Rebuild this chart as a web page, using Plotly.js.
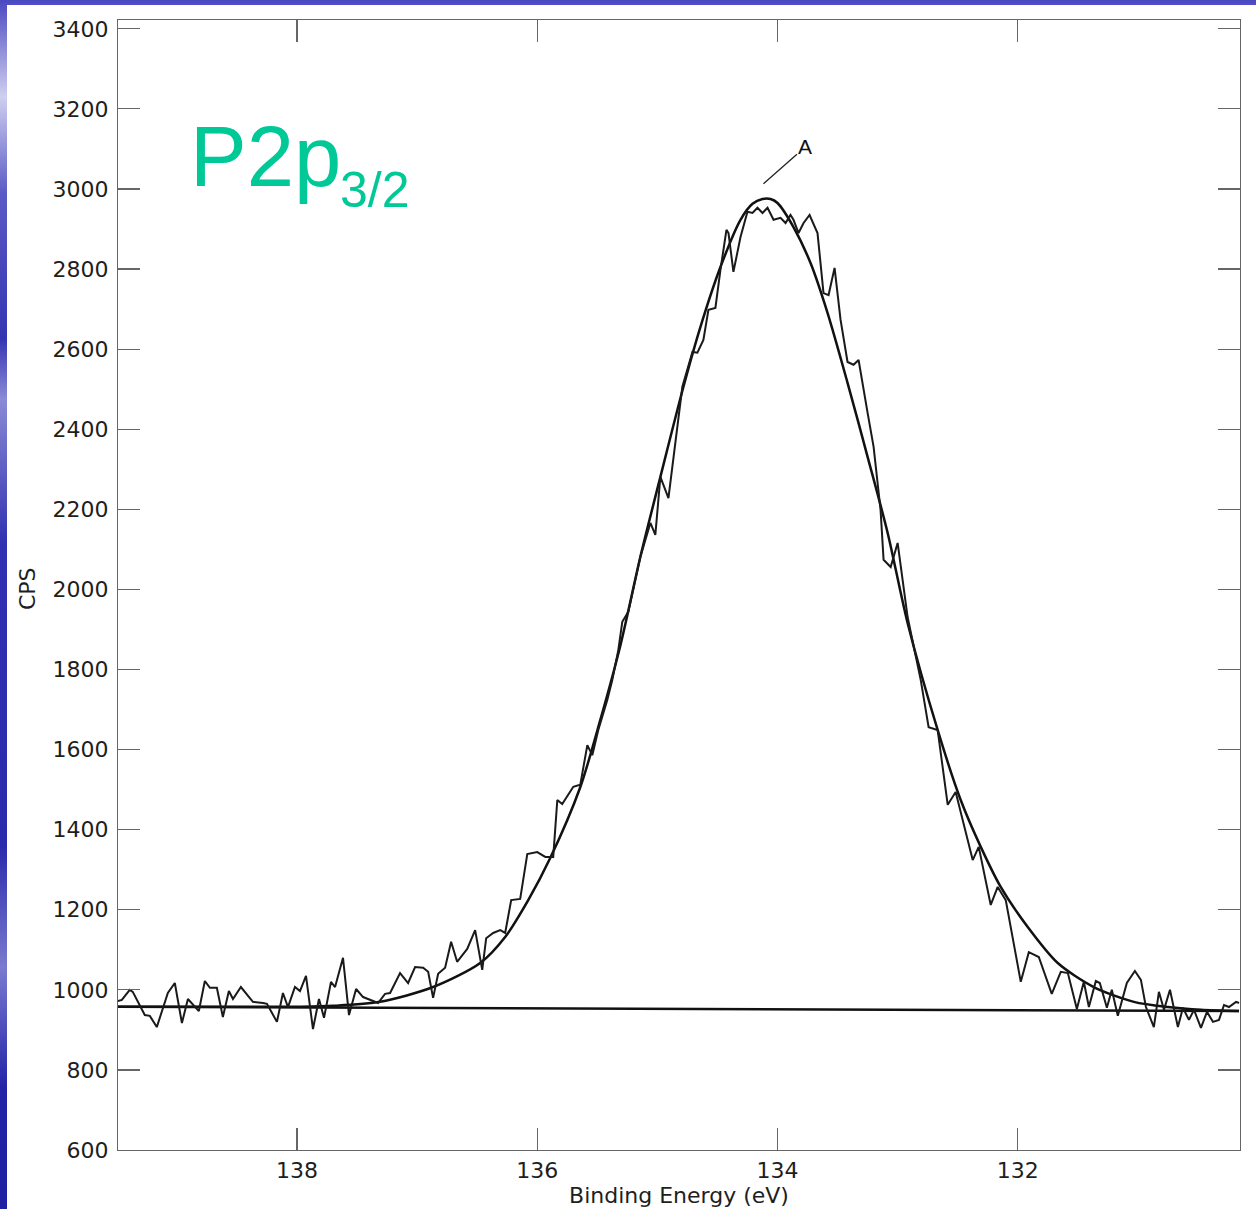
<!DOCTYPE html>
<html>
<head>
<meta charset="utf-8">
<script src="https://cdn.plot.ly/plotly-3.0.1.min.js"></script>
<style>
  html, body { margin: 0; padding: 0; width: 1256px; height: 1209px; overflow: hidden; }
  body { background: linear-gradient(to bottom, #4a48c0 0%, #cfcff0 8%, #5a5ac6 16%, #3434b2 28%, #8a8ad6 33%, #3030b0 45%, #2a2aac 70%, #7a7ad0 80%, #2222a8 90%, #2020a0 100%); }
  #chart { position: absolute; left: 7px; top: 5px; width: 1249px; height: 1204px; background: #fff; }
</style>
</head>
<body>
<div id="chart"></div>
<script>
// Binding energy (eV) of the measured spectrum and its counts per second
const beX = [139.492,139.458,139.392,139.367,139.267,139.225,139.167,139.075,139.017,138.958,138.908,138.875,138.817,138.767,138.725,138.667,138.617,138.567,138.533,138.467,138.367,138.283,138.250,138.167,138.117,138.075,138.017,137.975,137.925,137.867,137.817,137.775,137.717,137.683,137.617,137.567,137.508,137.450,137.325,137.267,137.225,137.142,137.075,137.017,136.950,136.908,136.867,136.825,136.767,136.717,136.667,136.583,136.517,136.458,136.425,136.367,136.308,136.267,136.217,136.142,136.083,136.000,135.933,135.867,135.833,135.792,135.700,135.642,135.583,135.542,135.492,135.417,135.375,135.325,135.292,135.242,135.200,135.142,135.058,135.017,134.975,134.908,134.792,134.708,134.667,134.617,134.575,134.517,134.475,134.425,134.408,134.367,134.308,134.250,134.208,134.167,134.125,134.083,134.033,133.975,133.933,133.892,133.867,133.825,133.783,133.733,133.667,133.617,133.575,133.525,133.475,133.417,133.367,133.325,133.250,133.200,133.142,133.117,133.058,133.000,132.917,132.808,132.742,132.667,132.583,132.517,132.375,132.325,132.225,132.167,132.100,131.975,131.908,131.825,131.717,131.642,131.583,131.508,131.450,131.408,131.350,131.317,131.258,131.217,131.167,131.092,131.025,130.975,130.933,130.867,130.825,130.783,130.733,130.667,130.625,130.575,130.533,130.475,130.425,130.375,130.325,130.283,130.242,130.183,130.158];
const cps = [972,975,1000,995,937,935,907,992,1017,917,977,967,947,1022,1005,1005,932,997,977,1007,970,967,965,920,992,957,1007,997,1035,902,977,930,1020,1007,1080,937,1002,982,967,990,992,1042,1017,1057,1055,1045,980,1040,1055,1120,1070,1102,1149,1050,1129,1142,1149,1142,1224,1227,1339,1344,1332,1332,1474,1464,1507,1512,1611,1586,1649,1724,1774,1849,1919,1944,1999,2081,2166,2136,2281,2228,2506,2593,2591,2623,2698,2703,2798,2898,2890,2793,2880,2943,2940,2953,2940,2953,2923,2928,2915,2935,2923,2890,2915,2935,2890,2740,2735,2803,2673,2568,2561,2573,2441,2356,2198,2074,2056,2116,1931,1774,1656,1649,1462,1494,1324,1357,1212,1257,1224,1020,1094,1082,990,1045,1042,952,1020,957,1022,1017,955,1000,935,1017,1047,1025,957,907,995,950,1000,907,955,925,950,905,945,920,925,962,957,970,967];

// Fitted peak envelope
const fitX = [139.492,138.808,137.975,137.700,137.308,136.867,136.475,136.267,136.075,135.892,135.642,135.475,135.308,135.142,134.975,134.783,134.642,134.475,134.308,134.208,134.125,134.058,134.000,133.867,133.725,133.583,133.417,133.250,133.083,132.917,132.667,132.475,132.308,132.142,131.917,131.667,131.367,131.033,130.750,130.475,130.158];
const fitY = [958,958,958,960,970,1007,1067,1132,1224,1329,1506,1674,1860,2081,2281,2506,2655,2805,2923,2963,2975,2975,2965,2905,2815,2690,2516,2331,2141,1916,1649,1474,1357,1257,1157,1067,1007,970,957,950,947];

// Linear background
const bgX = [139.49, 130.16];
const bgY = [958, 947];

// Axis ticks
const xTicks = [138, 136, 134, 132];
const yTicks = [600,800,1000,1200,1400,1600,1800,2000,2200,2400,2600,2800,3000,3200,3400];

// Peak label
const peakLabel = {x: 134.117, y: 3013, text: 'A'};

const tickFont = {family: 'DejaVu Sans, Liberation Sans, Arial, sans-serif', size: 22, color: '#1e1e1e'};

const traces = [
  {x: bgX, y: bgY, mode: 'lines', line: {color: '#111', width: 2.5}, hoverinfo: 'skip'},
  {x: fitX, y: fitY, mode: 'lines', line: {color: '#111', width: 2.5, shape: 'spline', smoothing: 0.8}, hoverinfo: 'skip'},
  {x: beX, y: cps, mode: 'lines', line: {color: '#1a1a1a', width: 2}, hoverinfo: 'skip'}
];

const layout = {
  width: 1249, height: 1204,
  margin: {l: 111, r: 16, t: 15, b: 59},
  paper_bgcolor: '#fff', plot_bgcolor: '#fff',
  showlegend: false,
  xaxis: {
    range: [139.49, 130.15], tickvals: xTicks, ticktext: xTicks.map(String),
    ticks: 'inside', ticklen: 22, tickcolor: '#666', tickwidth: 1.2,
    showline: true, linecolor: '#666', linewidth: 1.2, mirror: 'ticks',
    showgrid: false, zeroline: false, tickfont: tickFont,
    title: {text: 'Binding Energy (eV)', font: tickFont, standoff: 4}
  },
  yaxis: {
    range: [600, 3422], tickvals: yTicks, ticktext: yTicks.map(String),
    ticks: 'inside', ticklen: 22, tickcolor: '#666', tickwidth: 1.2,
    showline: true, linecolor: '#666', linewidth: 1.2, mirror: 'ticks',
    showgrid: false, zeroline: false, tickfont: tickFont, ticklabelstandoff: 4
  },
  annotations: [
    {xref: 'paper', yref: 'paper', x: -0.0805, y: 0.497, xanchor: 'center', yanchor: 'middle',
     text: 'CPS', textangle: -90, showarrow: false, font: tickFont},
    {x: peakLabel.x, y: peakLabel.y, xref: 'x', yref: 'y', text: peakLabel.text,
     showarrow: true, arrowhead: 0, arrowwidth: 1.3, arrowcolor: '#222', ax: 42, ay: -37,
     font: {family: 'Liberation Sans, Arial, sans-serif', size: 21, color: '#111'}},
    {xref: 'paper', yref: 'paper', x: 0.062, y: 0.879, xanchor: 'left', yanchor: 'middle',
     text: 'P2p', showarrow: false,
     font: {family: 'Liberation Sans, Arial, sans-serif', size: 85, color: '#00c896'}},
    {xref: 'paper', yref: 'paper', x: 0.196, y: 0.85, xanchor: 'left', yanchor: 'middle',
     text: '3/2', showarrow: false,
     font: {family: 'Liberation Sans, Arial, sans-serif', size: 50, color: '#00c896'}}
  ]
};

Plotly.newPlot('chart', traces, layout, {displayModeBar: false, staticPlot: true});
</script>
</body>
</html>
